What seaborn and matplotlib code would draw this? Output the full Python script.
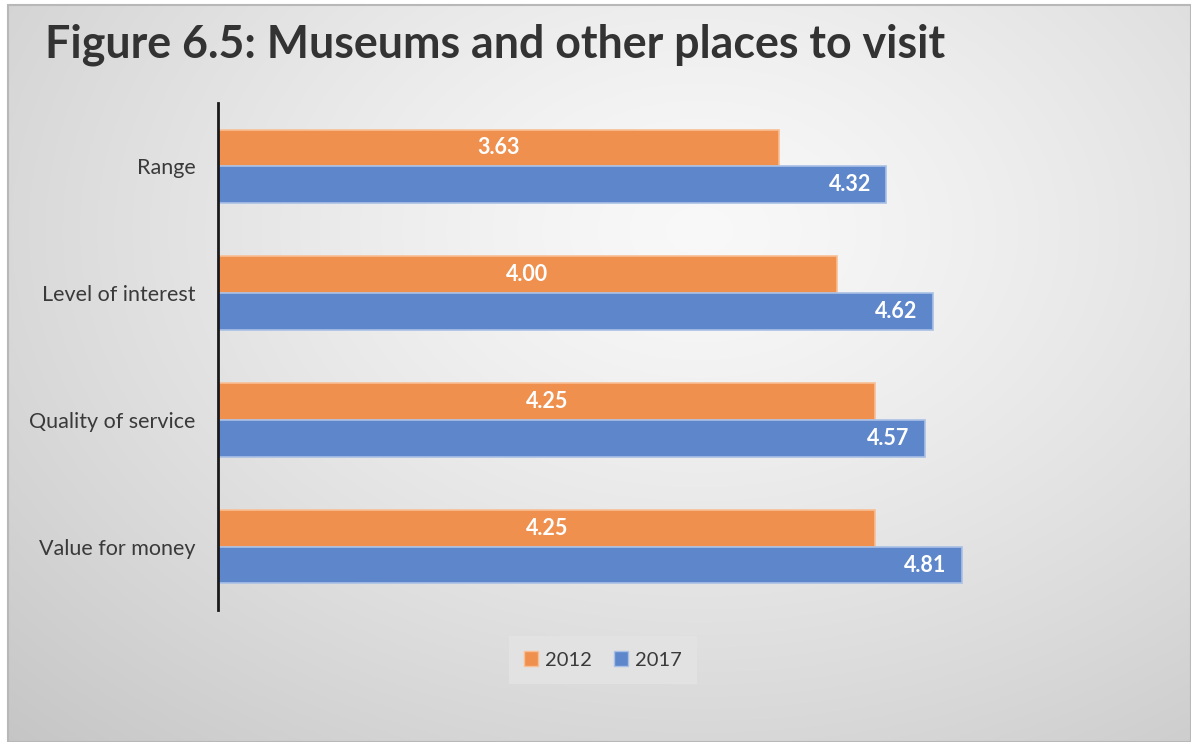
import numpy as np
import pandas as pd
import matplotlib
matplotlib.use("Agg")
import matplotlib.pyplot as plt
import seaborn as sns
from matplotlib.patches import Rectangle

# Ratings of museums and other places to visit
categories = ["Range", "Level of interest", "Quality of service", "Value for money"]
years = ["2012", "2017"]
scores_2012 = [3.63, 4.00, 4.25, 4.25]
scores_2017 = [4.32, 4.62, 4.57, 4.81]

colors = {"2012": "#EF904F", "2017": "#5D86CB"}
edge_colors = {"2012": "#F9BE93", "2017": "#A9C0E6"}

df = pd.DataFrame({
    "category": categories * 2,
    "year": [years[0]] * len(categories) + [years[1]] * len(categories),
    "score": scores_2012 + scores_2017,
})

sns.set_theme(style="white")
plt.rcParams["font.family"] = ["Lato", "DejaVu Sans"]

W, H = 1191, 742
fig = plt.figure(figsize=(W / 100, H / 100), dpi=100)
fig.patch.set_facecolor("white")

# Soft radial backdrop of the chart area
x0, y0 = 8, 5
bg = fig.add_axes([x0 / W, 0, 1 - x0 / W, (H - y0) / H], zorder=0)
gx = np.linspace(x0, W, 400)
gy = np.linspace(y0, H, 260)
GX, GY = np.meshgrid(gx, gy)
r = np.sqrt(((GX - 700) / 1.4) ** 2 + (GY - 230) ** 2)
v = 0.975 - 0.2 * (r / 711) ** 1.3
v = np.clip(v, 0, 1)
bg.imshow(np.dstack([v, v, v]), aspect="auto", extent=[0, 1, 0, 1], origin="upper")
bg.set_xlim(0, 1)
bg.set_ylim(0, 1)
bg.axis("off")
bg.add_patch(Rectangle((0, 0), 1, 1, transform=bg.transAxes, fill=False,
                       edgecolor="#B8B8B8", linewidth=1.5, clip_on=False))

ax = fig.add_axes([218 / W, 132 / H, 928 / W, 507 / H], zorder=1)
ax.patch.set_alpha(0)

sns.barplot(data=df, y="category", x="score", hue="year", orient="h",
            palette=colors, width=0.58, ax=ax, legend=False, saturation=1)

for cont, yr in zip(ax.containers, years):
    for bar in cont:
        bar.set_edgecolor(edge_colors[yr])
        bar.set_linewidth(1.2)

# Value labels: 2012 centred in the bar, 2017 at the inside end
c2012, c2017 = ax.containers[0], ax.containers[1]
ax.bar_label(c2012, labels=[f"{s:.2f}" for s in scores_2012], label_type="center",
             color="white", fontsize=15.5, fontweight="bold")
txts = ax.bar_label(c2017, labels=[f"{s:.2f}" for s in scores_2017], label_type="edge",
                    padding=-11, color="white", fontsize=15.5, fontweight="bold")
for t in txts:
    t.set_ha("right")

ax.set_xlim(0, 6)
ax.set_ylim(3.5, -0.5)
ax.set_xlabel("")
ax.set_ylabel("")
ax.set_xticks([])
ax.tick_params(axis="y", length=0, pad=16, labelsize=15.5, labelcolor="#3A3A3A")
for s in ["top", "right", "bottom"]:
    ax.spines[s].set_visible(False)
ax.spines["left"].set_color("#1a1a1a")
ax.spines["left"].set_linewidth(2.0)

fig.text(45 / W, 1 - 45 / H, "Figure 6.5: Museums and other places to visit",
         fontsize=32.2, fontweight="bold", color="#333333", va="center", ha="left")

# Legend
handles = [Rectangle((0, 0), 1, 1, facecolor=colors[y], edgecolor=edge_colors[y]) for y in years]
leg = fig.legend(handles, years, loc="center", bbox_to_anchor=(603 / W, 1 - 660 / H),
                 ncol=2, frameon=True, fontsize=14.5, handlelength=0.7, handleheight=0.7,
                 handletextpad=0.35, columnspacing=1.1, borderpad=0.75, fancybox=False)
leg.get_frame().set_facecolor("#E2E2E2")
leg.get_frame().set_edgecolor("none")
leg.get_frame().set_alpha(1)
for t in leg.get_texts():
    t.set_color("#3A3A3A")

fig.savefig("out.png", dpi=100, facecolor=fig.get_facecolor())
